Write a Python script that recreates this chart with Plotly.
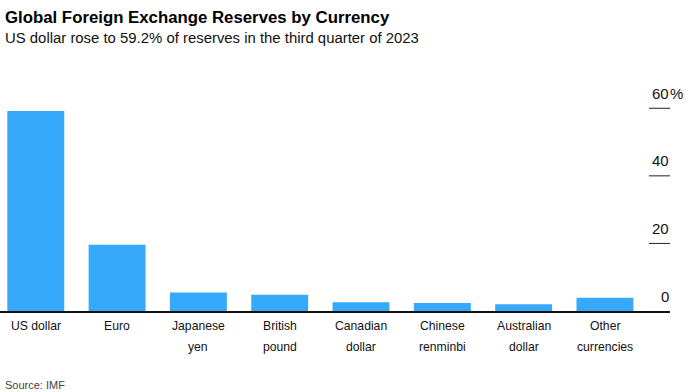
import plotly.graph_objects as go

categories = ["US dollar", "Euro", "Japanese yen", "British pound", "Canadian dollar",
              "Chinese renminbi", "Australian dollar", "Other currencies"]
tick_labels = ["US dollar", "Euro", "Japanese<br>yen", "British<br>pound", "Canadian<br>dollar",
               "Chinese<br>renminbi", "Australian<br>dollar", "Other<br>currencies"]
shares = [59.2, 19.6, 5.5, 4.8, 2.6, 2.4, 2.0, 3.9]
y_ticks = [0, 20, 40, 60]
y_tick_text = ["0", "20", "40", "60"]

FONT = "Liberation Sans, Arial, sans-serif"
BLUE = "#36a9fb"

W, H = 690, 392
L, R, T, B = 0, 20, 88, 81
PW, PH = W - L - R, H - T - B

fig = go.Figure()
fig.add_trace(go.Bar(x=list(range(len(categories))), y=shares, marker_color=BLUE,
                     marker_line_width=0, hoverinfo="skip"))

ann = []
for i, lab in enumerate(tick_labels):
    parts = lab.split("<br>")
    for j, p in enumerate(parts):
        ann.append(dict(x=i, xref="x", y=0, yref="paper", text=p, showarrow=False,
                        xanchor="center", yanchor="middle", yshift=-(15 + 20.5 * j),
                        font=dict(family=FONT, size=12.2, color="#111")))
for v, t in zip(y_ticks, y_tick_text):
    ann.append(dict(x=1, xref="paper", y=v, yref="y", text=t, showarrow=False,
                    xanchor="right", yanchor="middle", yshift=15, xshift=1,
                    font=dict(family=FONT, size=15, color="#111")))
    if v == y_ticks[-1]:
        ann.append(dict(x=1, xref="paper", y=v, yref="y", text="%", showarrow=False,
                        xanchor="left", yanchor="middle", yshift=15, xshift=-2,
                        font=dict(family=FONT, size=15, color="#111")))

shapes = []
for v in y_ticks[1:]:
    shapes.append(dict(type="line", xref="paper", x0=649 / PW, x1=1,
                       yref="y", y0=v, y1=v, line=dict(color="#222", width=1)))

fig.update_layout(
    width=W, height=H,
    margin=dict(l=L, r=R, t=T, b=B, pad=0),
    paper_bgcolor="white", plot_bgcolor="white",
    showlegend=False, bargap=0.3,
    xaxis=dict(range=[-0.44, 7.80], showticklabels=False, ticks="", showgrid=False,
               zeroline=False, showline=True, linecolor="#111", linewidth=1.5,
               fixedrange=True),
    yaxis=dict(range=[0, 66], showticklabels=False, ticks="", showgrid=False,
               zeroline=False, showline=False, fixedrange=True),
    annotations=ann,
    shapes=shapes,
)

fig.add_annotation(text="<b>Global Foreign Exchange Reserves by Currency</b>", xref="paper", yref="paper",
                   x=3 / PW, y=1 + (T - 17) / PH, xanchor="left", yanchor="middle",
                   showarrow=False, font=dict(family=FONT, size=16.8, color="#000"))
fig.add_annotation(text="US dollar rose to 59.2% of reserves in the third quarter of 2023", xref="paper", yref="paper",
                   x=3 / PW, y=1 + (T - 38.5) / PH, xanchor="left", yanchor="middle",
                   showarrow=False, font=dict(family=FONT, size=14.9, color="#111"))
fig.add_annotation(text="Source: IMF", xref="paper", yref="paper",
                   x=3 / PW, y=-(385 - (H - B)) / PH, xanchor="left", yanchor="middle",
                   showarrow=False, font=dict(family=FONT, size=11, color="#444"))

fig.write_html("out.html", config={"displayModeBar": False},
               post_script="document.body.style.margin='0';document.body.style.padding='0';")
